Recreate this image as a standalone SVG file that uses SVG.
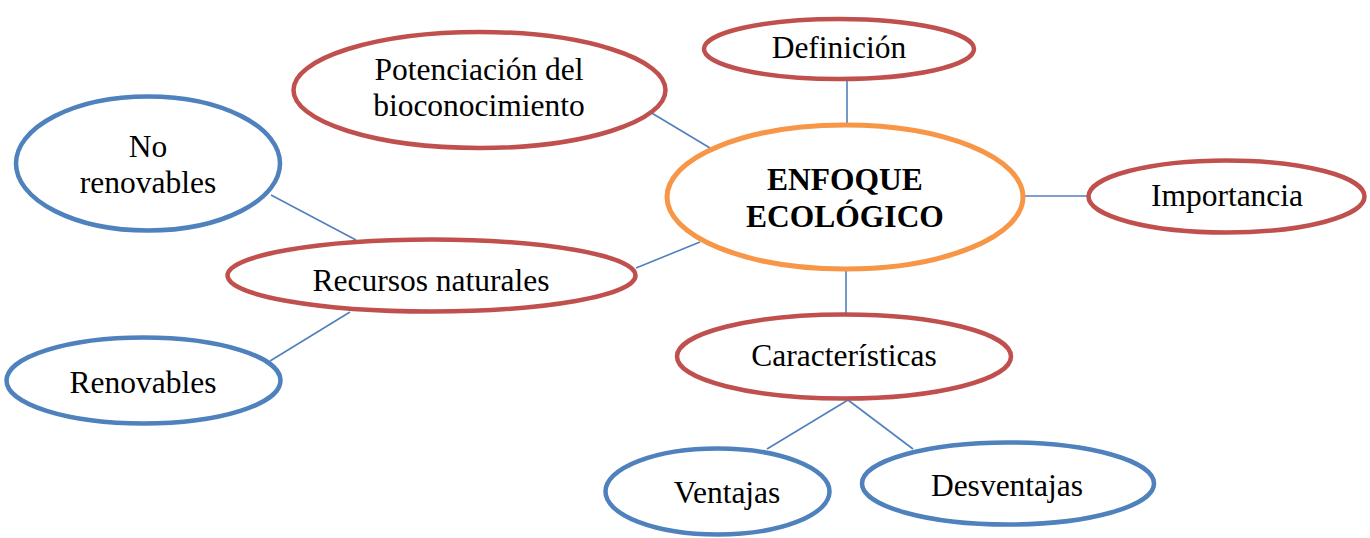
<svg xmlns="http://www.w3.org/2000/svg" width="1370" height="538" viewBox="0 0 1370 538">
<style>
.red{fill:#fff;stroke:#C0504D;stroke-width:4.5}
.blue{fill:#fff;stroke:#4F81BD;stroke-width:4.5}
.org{fill:#fff;stroke:#F79646;stroke-width:5}
.t{font-family:"Liberation Serif","Times New Roman",serif;font-size:31.5px;fill:#000;text-anchor:middle}
.b{font-weight:bold}
#connectors line{stroke:#4F81BD;stroke-width:1.6}
</style>
<defs><clipPath id="rc"><rect x="220" y="230" width="430" height="61"/></clipPath></defs>
<rect width="1370" height="538" fill="#fff"/>
<g id="connectors">
<line x1="847" y1="80" x2="847" y2="124"/>
<line x1="650" y1="112" x2="710" y2="148"/>
<line x1="1023" y1="196" x2="1088" y2="196"/>
<line x1="700" y1="242" x2="636" y2="268"/>
<line x1="846" y1="269" x2="846" y2="314"/>
<line x1="271" y1="195" x2="356" y2="240"/>
<line x1="350" y1="312" x2="270" y2="361"/>
<line x1="848" y1="400" x2="767" y2="449"/>
<line x1="848" y1="400" x2="913" y2="449"/>
</g>
<g id="potenciacion"><ellipse class="red" cx="479.5" cy="90" rx="186" ry="58"/><text class="t" x="479" y="80">Potenciación del</text><text class="t" x="479" y="116">bioconocimiento</text></g>
<g id="definicion"><ellipse class="red" cx="839" cy="49" rx="135" ry="30"/><text class="t" x="839" y="58">Definición</text></g>
<g id="enfoque"><ellipse class="org" cx="845" cy="197" rx="178" ry="72"/><text class="t b" x="845" y="190">ENFOQUE</text><text class="t b" x="845" y="227">ECOLÓGICO</text></g>
<g id="importancia"><ellipse class="red" cx="1226.5" cy="196.5" rx="138" ry="36"/><text class="t" x="1227" y="206">Importancia</text></g>
<g id="norenovables"><ellipse class="blue" cx="148" cy="163.5" rx="132" ry="67"/><text class="t" x="148" y="157">No</text><text class="t" x="148" y="193">renovables</text></g>
<g id="recursos"><ellipse class="red" cx="431.5" cy="275.5" rx="204" ry="36"/><text class="t" x="431" y="291" clip-path="url(#rc)">Recursos naturales</text></g>
<g id="renovables"><ellipse class="blue" cx="143.5" cy="380.5" rx="137" ry="43"/><text class="t" x="143" y="393">Renovables</text></g>
<g id="caracteristicas"><ellipse class="red" cx="844" cy="356.5" rx="167" ry="42"/><text class="t" x="844" y="366">Características</text></g>
<g id="ventajas"><ellipse class="blue" cx="717.5" cy="491.5" rx="112" ry="43"/><text class="t" x="727" y="503">Ventajas</text></g>
<g id="desventajas"><ellipse class="blue" cx="1008" cy="483.5" rx="146" ry="41"/><text class="t" x="1007" y="496">Desventajas</text></g>
</svg>
